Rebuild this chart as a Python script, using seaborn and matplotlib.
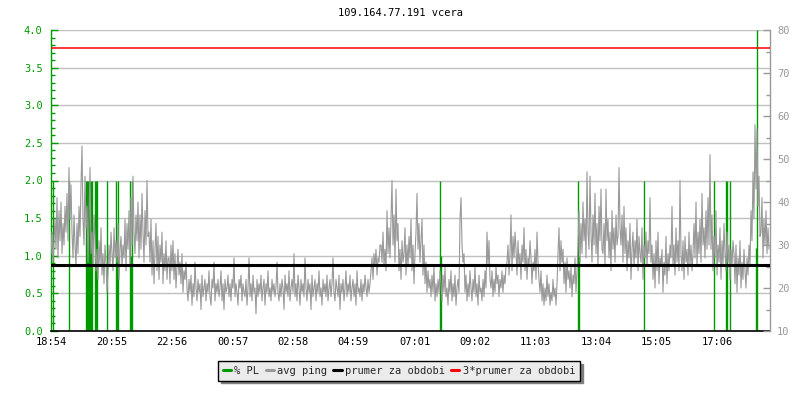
import numpy as np
import pandas as pd
import matplotlib
matplotlib.use("Agg")
import matplotlib.pyplot as plt
from matplotlib.lines import Line2D
from matplotlib.ticker import MultipleLocator, FormatStrFormatter
import seaborn as sns

# ---------------- data ----------------
title = "109.164.77.191 vcera"
tick_labels = ["18:54", "20:55", "22:56", "00:57", "02:58", "04:59",
               "07:01", "09:02", "11:03", "13:04", "15:05", "17:06"]
tick_minutes = [0, 121, 242, 363, 484, 605, 727, 848, 969, 1090, 1211, 1332]
sample_step_min = 2          # one ping sample every 2 minutes
span_min = 1438

# average ping (ms), one value per sample
ping_ms = [
    28, 33, 26, 31,
    36, 29, 41, 27, 38, 31, 40, 28, 35, 30, 39, 33,
    42, 31, 48, 36, 44, 33,
    27, 37, 30, 25, 35, 28, 39, 32,
    44, 53, 36, 30, 46, 34,
    39, 26, 36, 48, 28, 33, 25, 37,
    32, 24, 29, 22, 31, 25, 34, 23, 28, 21, 30, 26,
    19, 24,
    30, 25, 33, 28, 24, 34, 27, 31, 26, 35, 22, 29, 32, 25, 30, 27, 36, 24,
    35, 29, 38, 25, 41, 30, 46, 33, 28, 37,
    31, 40, 27, 37, 29, 42, 33, 26, 38, 30, 45, 32,
    33, 26, 36, 23, 31, 21, 29, 35, 24, 32, 22, 30, 26, 33, 21, 28, 24, 31, 22, 27,
    27, 21, 30, 24, 31, 22, 28, 20, 25, 29, 23, 26, 21, 28, 19, 24, 22, 26,
    20, 17, 22, 19, 23, 16, 21, 18, 26, 20, 17, 22, 19, 21, 15, 23, 18, 20, 22, 17,
    21, 19, 24, 18, 16, 22, 20, 26, 17, 21, 19, 22, 18, 20, 24, 17, 21, 15, 22, 19,
    20, 23, 18, 21, 17, 22, 20, 27, 18, 21, 19, 16, 22, 20, 23, 17, 21, 19, 18, 22,
    16, 20, 27, 18, 21, 17, 23, 19, 20, 14, 22, 18, 21, 19, 23, 17, 20, 22, 16, 21,
    19, 24, 18, 20, 17, 22, 19, 21, 18, 20, 26, 19, 17, 21, 18, 22, 20, 15, 23, 19,
    21, 18, 24, 17, 20, 22, 19, 28, 18, 21, 17, 23, 20, 16, 22, 19, 21, 18, 27, 20,
    17, 22, 19, 21, 15, 23, 18, 20, 22, 17, 21, 19, 24, 18, 20, 16, 22, 19, 21, 18,
    23, 17, 20, 22, 18, 21, 27, 19, 17, 22, 20, 18, 23, 15, 21, 19, 22, 17, 20, 24,
    18, 21, 19, 23, 17, 20, 22, 18, 21, 16, 24, 19, 20, 18, 22, 17, 21, 19, 23, 20,
    18, 22, 19, 21,
    24, 27, 22, 28, 25, 29, 23, 27, 26, 30,
    30, 26, 33, 25, 29, 24, 38, 28, 34, 27, 36, 45, 30, 37, 26, 43, 31, 35, 24, 29,
    22, 31, 26, 28, 34, 23, 30, 25, 32, 27, 36, 24, 30, 21, 28, 33, 42, 29, 35, 26,
    31, 36, 23, 30, 21, 26, 19, 24, 20, 22, 18, 23, 19, 25, 17, 21, 18, 22, 19, 24,
    21, 17, 23, 19, 25, 18, 20, 16, 22, 19, 24, 17, 21, 18, 23, 16, 20, 22, 19,
    36, 41, 30, 26,
    28, 19, 23, 17, 21, 18, 24, 20, 17, 22, 19, 25, 18, 21, 16, 23, 19, 20, 17, 22, 18, 24, 20,
    33, 25, 31, 22,
    20, 24, 18, 22, 19, 25, 21, 23, 18, 22, 20, 24, 19, 23, 21, 25,
    26, 30, 23, 28, 37, 24, 32, 27, 33, 29, 23, 31, 25, 28, 22, 30, 26, 34, 24, 29, 22, 27, 25, 31,
    27, 21, 26, 24, 29, 22, 33, 26,
    22, 19, 24, 17, 21, 16, 20, 17, 23, 18, 21, 16, 19, 17, 22, 18, 20, 16, 21,
    28, 34, 24, 31, 26, 29,
    21, 26, 19, 27, 22, 24, 20, 25, 18, 23, 21, 27, 19, 24,
    30, 38, 26, 35, 28, 40, 31, 36, 27, 47, 33,
    29, 46, 33, 26, 37, 30, 42, 28, 35, 25, 39, 31, 43, 29,
    28, 35, 25, 43, 31, 36, 27, 33, 24, 38, 29, 34, 26, 37, 30, 32,
    48, 34,
    30, 37, 26, 39, 28, 34, 24, 31, 27, 35, 22, 29, 33, 25, 31,
    27, 36, 24, 32, 28, 26, 34, 22, 30, 27, 33, 25, 31, 28, 41,
    26, 30, 22, 28, 20, 31, 24, 33, 21, 27, 25, 29, 19, 26, 23, 32, 21, 28, 24, 30,
    27, 39, 25, 30, 23, 34, 26, 31, 24, 45,
    28, 24, 31, 22, 32, 26, 29, 23, 33, 25, 30, 24, 28,
    35, 27, 40, 25, 33, 28, 36, 26, 42, 30, 34, 27, 38, 29, 41, 30, 51,
    29, 37, 24, 32, 27, 38, 23, 30, 26, 34, 22, 31, 25, 35, 28, 24, 33, 26, 30, 22, 29, 25, 31,
    28, 21, 30, 19, 27, 23, 31, 20, 26, 22, 29, 24, 20, 27, 23, 30, 25,
    38, 31, 47, 36, 58, 43, 57, 39, 46, 32,
    33, 41, 27, 36, 30, 38, 28, 34, 29,
]

# packet loss events (minute offset, % PL)
pl_minutes = [4, 36, 70, 72, 74, 76, 78, 80, 82, 88, 90, 92, 112,
              130, 132, 134, 158, 160, 162, 778, 780, 1054, 1056,
              1186, 1326, 1350, 1352, 1358, 1410, 1412]
pl_values = [2, 2, 2, 2, 2, 2, 2, 2, 2, 2, 2, 2, 2,
             2, 1, 2, 2, 1, 2, 2, 1, 2, 1,
             2, 2, 2, 2, 2, 1.1, 4]

mean_ping_ms = 25.3   # "prumer za obdobi"

legend_labels = ["% PL", "avg ping", "prumer za obdobi", "3*prumer za obdobi"]

# ---------------- style ----------------
sns.set_theme(style="white")
plt.rcParams["font.family"] = ["DejaVu Sans Mono", "DejaVu Sans"]
FS = 7.5
GREEN = "#009900"
GRAY = "#999999"
GRID = "#c0c0c0"

fig = plt.figure(figsize=(8, 4), dpi=100)
fig.patch.set_facecolor("white")
ax = fig.add_axes([51 / 800, 1 - 331 / 400, 719 / 800, 301 / 400])
ax2 = ax.twinx()

df = pd.DataFrame({"t": np.arange(len(ping_ms)) * sample_step_min, "ping": ping_ms})
pl = pd.DataFrame({"t": pl_minutes, "pl": pl_values})

# packet loss spikes (left axis)
ax.vlines(pl["t"], 0, pl["pl"], color=GREEN, lw=1.0, zorder=2)

# ping (right axis)
sns.lineplot(data=df, x="t", y="ping", ax=ax2, color=GRAY, lw=0.8,
             estimator=None, legend=False)
ax2.axhline(mean_ping_ms, color="black", lw=2.2, zorder=4)
ax2.axhline(3 * mean_ping_ms, color="red", lw=1.1, zorder=4)

# axes limits/ticks
ax.set_xlim(0, span_min)
ax.set_ylim(0, 4)
ax2.set_ylim(10, 80)

ax.set_xticks(tick_minutes)
ax.set_xticklabels(tick_labels, fontsize=FS, color="black")
ax.tick_params(axis="x", direction="in", length=6, width=1, color="black", pad=4)

ax.set_yticks(np.arange(0, 4.01, 0.5))
ax.yaxis.set_major_formatter(FormatStrFormatter("%.1f"))
ax.yaxis.set_minor_locator(MultipleLocator(0.1))
ax.tick_params(axis="y", which="major", direction="in", length=5, width=1,
               color=GREEN, labelcolor=GREEN, labelsize=FS, pad=6, left=True)
ax.tick_params(axis="y", which="minor", direction="in", length=3, width=1,
               color=GREEN, left=True)

ax2.set_yticks(np.arange(10, 81, 10))
ax2.yaxis.set_minor_locator(MultipleLocator(5))
ax2.tick_params(axis="y", which="major", direction="in", length=5, width=1,
                color=GRAY, labelcolor=GRAY, labelsize=FS, pad=5, right=True)
ax2.tick_params(axis="y", which="minor", direction="in", length=3, width=1,
                color=GRAY, right=True)
ax2.tick_params(axis="x", bottom=False, labelbottom=False)

ax.yaxis.grid(True, color=GRID, lw=1.0)
ax.xaxis.grid(False)
ax2.grid(False)
ax.set_axisbelow(True)

for s in ["top", "right"]:
    ax.spines[s].set_visible(False)
ax.spines["left"].set_color(GREEN)
ax.spines["left"].set_linewidth(1.0)
ax.spines["bottom"].set_color("black")
ax.spines["bottom"].set_linewidth(1.2)
for s in ["top", "left", "bottom"]:
    ax2.spines[s].set_visible(False)
ax2.spines["right"].set_color(GRAY)
ax2.spines["right"].set_linewidth(1.0)

ax.set_xlabel("")
ax.set_ylabel("")
ax2.set_xlabel("")
ax2.set_ylabel("")

fig.text(0.5, 1 - 13 / 400, title, ha="center", va="center", fontsize=FS, color="black")

handles = [Line2D([0], [0], color=c, lw=2.2) for c in [GREEN, GRAY, "black", "red"]]
leg = fig.legend(handles, legend_labels, loc="center",
                 bbox_to_anchor=(399 / 800, 1 - 371 / 400), ncol=4,
                 frameon=True, fancybox=False, shadow={"color": "#7f7f7f", "alpha": 1},
                 edgecolor="black", facecolor="#ebebeb", framealpha=1,
                 fontsize=FS, handlelength=0.8, handletextpad=0.3,
                 columnspacing=0.6, borderpad=0.45, borderaxespad=0)
leg.get_frame().set_linewidth(1.0)

fig.savefig("out.png", dpi=100, facecolor="white")
